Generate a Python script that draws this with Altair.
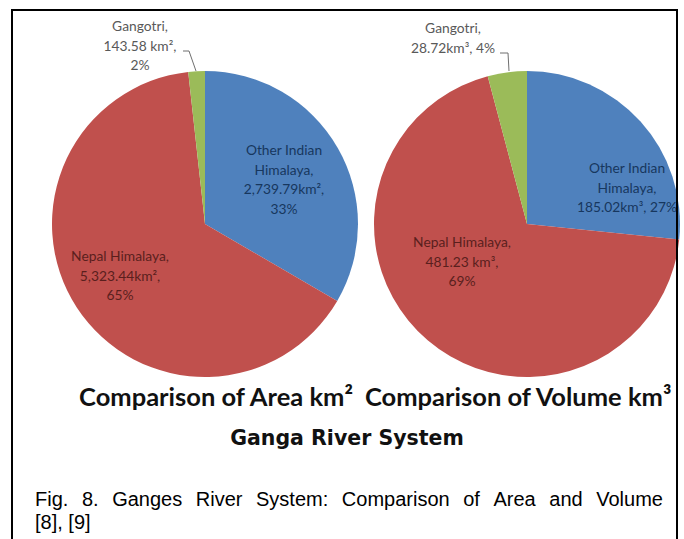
import altair as alt
import pandas as pd

# ---------------- data ----------------
categories = ["Other Indian Himalaya", "Nepal Himalaya", "Gangotri"]
area_km2 = [2739.79, 5323.44, 143.58]
volume_km3 = [185.02, 481.23, 28.72]
slice_colors = ["#4F81BD", "#C0504D", "#9BBB59"]
label_colors = ["#17375E", "#5A1F1D", "#595959"]

title_area = "Comparison of Area km²"
title_volume = "Comparison of Volume km³"
main_title = "Ganga River System"
caption_line1 = "Fig. 8. Ganges River System: Comparison of Area and Volume"
caption_line2 = "[8], [9]"

W, H = 684, 539
R = 153
LEFT_C = (205, 224)
RIGHT_C = (527, 224)


def pcts(vals):
    s = sum(vals)
    return [round(v / s * 100) for v in vals]


pa = pcts(area_km2)
pv = pcts(volume_km3)

area_labels = [
    f"Other Indian\nHimalaya,\n{area_km2[0]:,.2f}km²,\n{pa[0]}%",
    f"Nepal Himalaya,\n{area_km2[1]:,.2f}km²,\n{pa[1]}%",
    f"Gangotri,\n{area_km2[2]:,.2f} km²,\n{pa[2]}%",
]
volume_labels = [
    f"Other Indian\nHimalaya,\n{volume_km3[0]:,.2f}km³, {pv[0]}%",
    f"Nepal Himalaya,\n{volume_km3[1]:,.2f} km³,\n{pv[1]}%",
    f"Gangotri,\n{volume_km3[2]:,.2f}km³, {pv[2]}%",
]

# label placement (layout: centre x and first-line y of each label block)
area_label_pos = [(284, 151), (120, 257), (140, 27)]
volume_label_pos = [(627, 169), (462, 243), (453, 29)]


def pie(values, center):
    df = pd.DataFrame({"category": categories, "value": values, "order": list(range(len(values)))})
    return alt.Chart(df).mark_arc(outerRadius=R).encode(
        theta=alt.Theta("value:Q", stack=True),
        color=alt.Color("category:N", scale=alt.Scale(domain=categories, range=slice_colors), legend=None),
        order=alt.Order("order:Q"),
        x=alt.value(center[0]),
        y=alt.value(center[1]),
    )


lab_df = pd.DataFrame({
    "text": area_labels + volume_labels,
    "x": [p[0] for p in area_label_pos + volume_label_pos],
    "y": [p[1] for p in area_label_pos + volume_label_pos],
    "color": label_colors + label_colors,
})
labels = alt.Chart(lab_df).mark_text(
    font="Lato", fontSize=13.8, lineBreak="\n", lineHeight=19.5, align="center", baseline="middle"
).encode(
    x=alt.X("x:Q", scale=None), y=alt.Y("y:Q", scale=None),
    text="text:N", color=alt.Color("color:N", scale=None),
)

# leader lines for the Gangotri labels
lead_df = pd.DataFrame({
    "seg": ["a", "a", "a", "b", "b", "b"],
    "i": [0, 1, 2, 0, 1, 2],
    "x": [183, 189, 196, 500, 508, 509],
    "y": [51, 51, 71, 53, 53, 71],
})
leaders = alt.Chart(lead_df).mark_line(color="#6F6F6F", strokeWidth=1).encode(
    x=alt.X("x:Q", scale=None), y=alt.Y("y:Q", scale=None),
    detail="seg:N", order="i:Q",
)

t1 = alt.Chart(pd.DataFrame({"text": [title_area]})).mark_text(
    font="Lato", fontWeight="bold", fontSize=25.5, align="center", baseline="middle", color="#111111"
).encode(x=alt.value(216), y=alt.value(398), text="text:N")
t2 = alt.Chart(pd.DataFrame({"text": [title_volume]})).mark_text(
    font="Lato", fontWeight="bold", fontSize=25.5, align="left", baseline="middle", color="#111111"
).encode(x=alt.value(365), y=alt.value(398), text="text:N")

main = alt.Chart(pd.DataFrame({"text": [main_title]})).mark_text(
    font="DejaVu Sans", fontWeight="bold", fontSize=20.5, align="center", baseline="middle", color="#111111"
).encode(x=alt.value(347), y=alt.value(439), text="text:N")

# justified caption line 1
arial = {"F": 611, "i": 222, "g": 556, ".": 278, "8": 556, "G": 778, "a": 556, "n": 556, "e": 556,
         "s": 500, "R": 722, "v": 500, "r": 333, "S": 667, "y": 500, "t": 278, "m": 833, ":": 278,
         "C": 722, "o": 556, "p": 556, "f": 278, "A": 667, "d": 556, "V": 667, "l": 222, "u": 556}
CAP_FS = 20
cap_left, cap_right = 35, 664
words = caption_line1.split(" ")
wwid = [sum(arial.get(c, 556) for c in w) / 1000 * CAP_FS for w in words]
gap = (cap_right - cap_left - sum(wwid)) / (len(words) - 1)
xs = []
cx = cap_left
for w in wwid:
    xs.append(cx)
    cx += w + gap
cap_df = pd.DataFrame({"text": words + [caption_line2], "x": xs + [cap_left],
                       "y": [506] * len(words) + [529]})
caption = alt.Chart(cap_df).mark_text(
    font="Liberation Sans", fontSize=CAP_FS, align="left", baseline="alphabetic", color="#000000"
).encode(x=alt.X("x:Q", scale=None), y=alt.Y("y:Q", scale=None), text="text:N")

border = alt.Chart(pd.DataFrame({"a": [0]})).mark_rect(
    filled=False, stroke="#000000", strokeWidth=2
).encode(x=alt.value(12), x2=alt.value(677), y=alt.value(10), y2=alt.value(600))

chart = alt.layer(
    pie(area_km2, LEFT_C), pie(volume_km3, RIGHT_C), labels, leaders, t1, t2, main, caption, border
).resolve_scale(theta="independent").properties(
    width=W, height=H, padding=0, autosize=alt.AutoSizeParams(type="none"), background="white"
).configure_view(stroke=None)

chart.save("out.html", embed_options={"renderer": "svg", "actions": False})
